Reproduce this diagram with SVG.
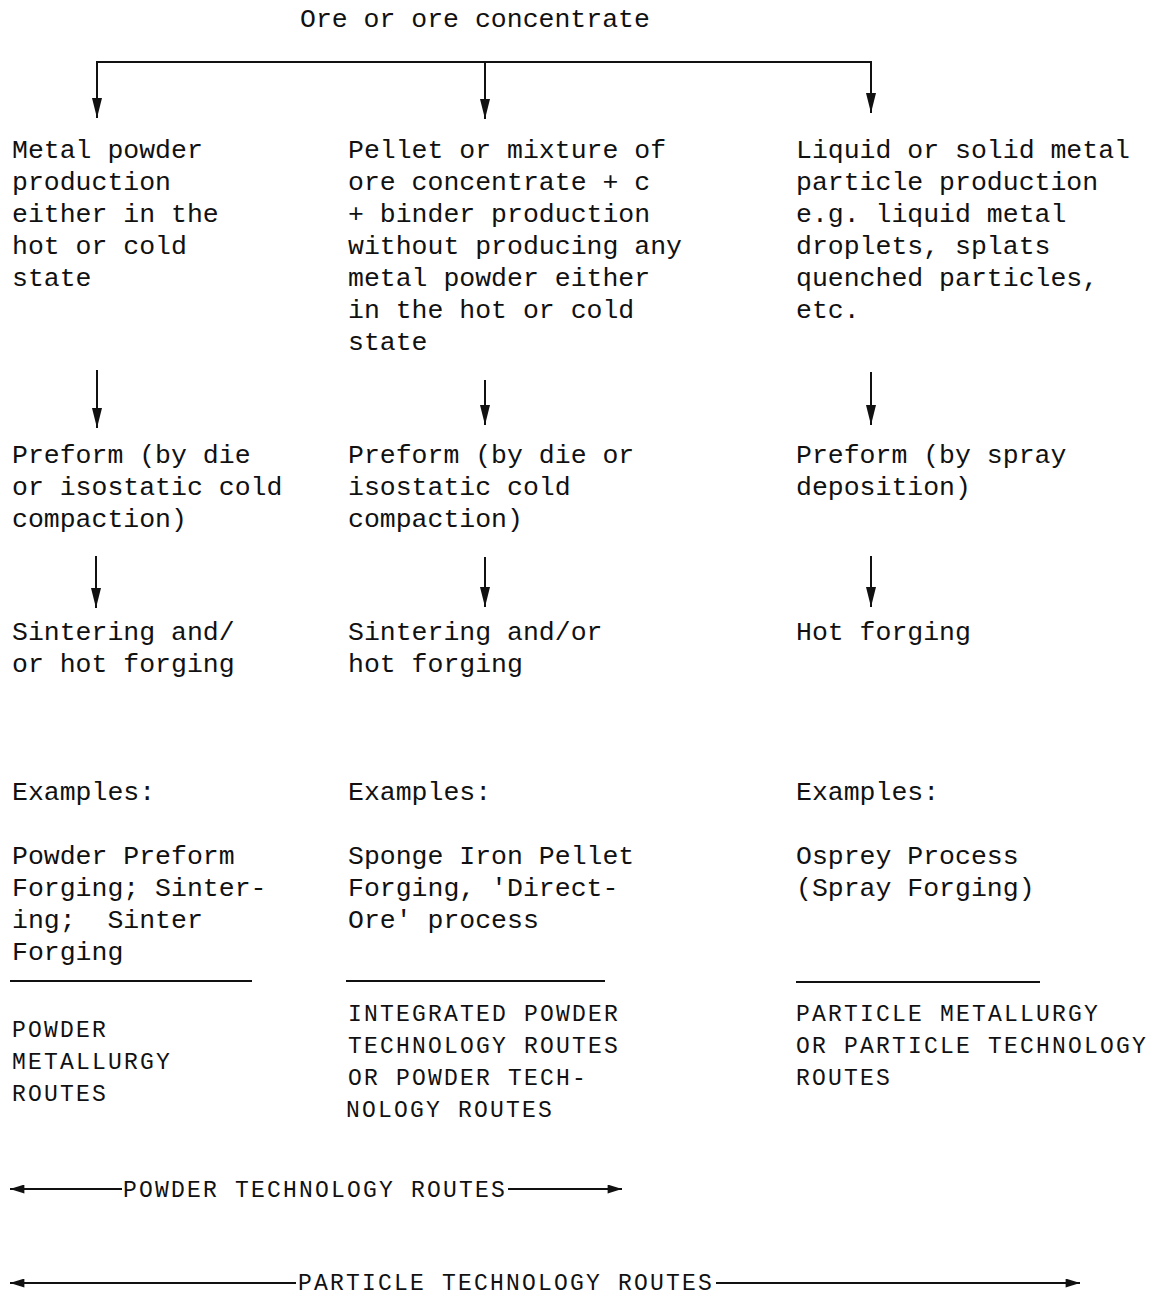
<svg xmlns="http://www.w3.org/2000/svg" width="1157" height="1296" viewBox="0 0 1157 1296">
<style>
.t{font-family:"Liberation Mono","DejaVu Sans Mono",monospace;font-size:26.5px;fill:#111;white-space:pre}
.r{font-family:"Liberation Mono","DejaVu Sans Mono",monospace;font-size:23px;letter-spacing:2.2px;fill:#111;white-space:pre}
.c{stroke:#111;stroke-width:2;fill:none}
.u{stroke:#111;stroke-width:2}
</style>
<defs>
<marker id="ah" viewBox="0 0 20 10" refX="20" refY="5" markerWidth="20" markerHeight="10" markerUnits="userSpaceOnUse" orient="auto-start-reverse">
<path d="M0,0 L20,5 L0,10 z" fill="#111"/>
</marker>
<marker id="ah2" viewBox="0 0 16 10" refX="16" refY="5" markerWidth="16" markerHeight="9" markerUnits="userSpaceOnUse" orient="auto-start-reverse">
<path d="M0,0 L16,5 L0,10 z" fill="#111"/>
</marker>
</defs>
<g id="n-ore"><text class="t" x="300" y="27">Ore or ore concentrate</text></g>
<g id="n-l1"><text class="t" x="12" y="158">Metal powder</text><text class="t" x="12" y="190">production</text><text class="t" x="12" y="222">either in the</text><text class="t" x="12" y="254">hot or cold</text><text class="t" x="12" y="286">state</text></g>
<g id="n-m1"><text class="t" x="348" y="158">Pellet or mixture of</text><text class="t" x="348" y="190">ore concentrate + c</text><text class="t" x="348" y="222">+ binder production</text><text class="t" x="348" y="254">without producing any</text><text class="t" x="348" y="286">metal powder either</text><text class="t" x="348" y="318">in the hot or cold</text><text class="t" x="348" y="350">state</text></g>
<g id="n-r1"><text class="t" x="796" y="158">Liquid or solid metal</text><text class="t" x="796" y="190">particle production</text><text class="t" x="796" y="222">e.g. liquid metal</text><text class="t" x="796" y="254">droplets, splats</text><text class="t" x="796" y="286">quenched particles,</text><text class="t" x="796" y="318">etc.</text></g>
<g id="n-l2"><text class="t" x="12" y="463">Preform (by die</text><text class="t" x="12" y="495">or isostatic cold</text><text class="t" x="12" y="527">compaction)</text></g>
<g id="n-m2"><text class="t" x="348" y="463">Preform (by die or</text><text class="t" x="348" y="495">isostatic cold</text><text class="t" x="348" y="527">compaction)</text></g>
<g id="n-r2"><text class="t" x="796" y="463">Preform (by spray</text><text class="t" x="796" y="495">deposition)</text></g>
<g id="n-l3"><text class="t" x="12" y="640">Sintering and/</text><text class="t" x="12" y="672">or hot forging</text></g>
<g id="n-m3"><text class="t" x="348" y="640">Sintering and/or</text><text class="t" x="348" y="672">hot forging</text></g>
<g id="n-r3"><text class="t" x="796" y="640">Hot forging</text></g>
<g id="n-l4"><text class="t" x="12" y="800">Examples:</text><text class="t" x="12" y="864">Powder Preform</text><text class="t" x="12" y="896">Forging; Sinter-</text><text class="t" x="12" y="928">ing;  Sinter</text><text class="t" x="12" y="960">Forging</text><line class="u" x1="10" y1="981" x2="252" y2="981"/><text class="r" x="12" y="1037">POWDER</text><text class="r" x="12" y="1069">METALLURGY</text><text class="r" x="12" y="1101">ROUTES</text></g>
<g id="n-m4"><text class="t" x="348" y="800">Examples:</text><text class="t" x="348" y="864">Sponge Iron Pellet</text><text class="t" x="348" y="896">Forging, 'Direct-</text><text class="t" x="348" y="928">Ore' process</text><line class="u" x1="346" y1="981" x2="605" y2="981"/><text class="r" x="348" y="1021">INTEGRATED POWDER</text><text class="r" x="348" y="1053">TECHNOLOGY ROUTES</text><text class="r" x="348" y="1085">OR POWDER TECH-</text><text class="r" x="346" y="1117">NOLOGY ROUTES</text></g>
<g id="n-r4"><text class="t" x="796" y="800">Examples:</text><text class="t" x="796" y="864">Osprey Process</text><text class="t" x="796" y="896">(Spray Forging)</text><line class="u" x1="796" y1="982" x2="1040" y2="982"/><text class="r" x="796" y="1021">PARTICLE METALLURGY</text><text class="r" x="796" y="1053">OR PARTICLE TECHNOLOGY</text><text class="r" x="796" y="1085">ROUTES</text></g>
<g id="n-ptr"><text class="r" x="123" y="1197">POWDER TECHNOLOGY ROUTES</text></g>
<g id="n-pcr"><text class="r" x="298" y="1290">PARTICLE TECHNOLOGY ROUTES</text></g>
<g id="connectors">
<polyline class="c" points="97,62 871,62" stroke-width="2.5"/>
<line class="c" x1="97" y1="61" x2="97" y2="118" marker-end="url(#ah)"/>
<line class="c" x1="485" y1="62" x2="485" y2="119" marker-end="url(#ah)"/>
<line class="c" x1="871" y1="61" x2="871" y2="113" marker-end="url(#ah)"/>
<line class="c" x1="97" y1="370" x2="97" y2="428" marker-end="url(#ah)"/>
<line class="c" x1="485" y1="380" x2="485" y2="425" marker-end="url(#ah)"/>
<line class="c" x1="871" y1="372" x2="871" y2="425" marker-end="url(#ah)"/>
<line class="c" x1="96" y1="556" x2="96" y2="608" marker-end="url(#ah)"/>
<line class="c" x1="485" y1="557" x2="485" y2="607" marker-end="url(#ah)"/>
<line class="c" x1="871" y1="556" x2="871" y2="607" marker-end="url(#ah)"/>
<line class="c" x1="10" y1="1189" x2="122" y2="1189" marker-start="url(#ah2)"/>
<line class="c" x1="508" y1="1189" x2="622" y2="1189" marker-end="url(#ah2)"/>
<line class="c" x1="10" y1="1283" x2="296" y2="1283" marker-start="url(#ah2)"/>
<line class="c" x1="716" y1="1283" x2="1080" y2="1283" marker-end="url(#ah2)"/>
</g>
</svg>
